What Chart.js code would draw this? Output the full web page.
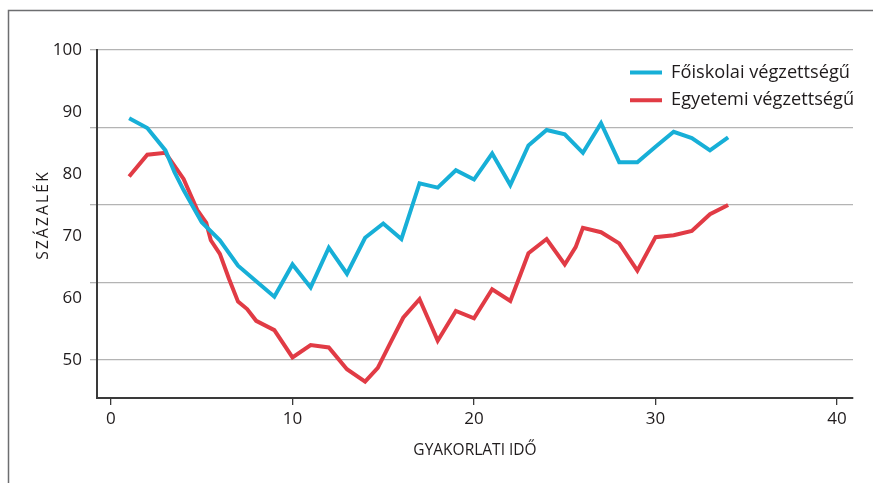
<!DOCTYPE html>
<html>
<head>
<meta charset="utf-8">
<script src="https://cdn.jsdelivr.net/npm/chart.js@4/dist/chart.umd.min.js"></script>
<style>
    body { margin: 0; background: #fff; }
</style>
</head>
<body>
<canvas id="myChart" width="873" height="483"></canvas>
<script>
// ADATOK

const xTicks = [0, 10, 20, 30, 40];
const yTicks = [50, 60, 70, 80, 90, 100];
const gridLevels = [50, 62.5, 75, 87.5, 100];

const blueLabel = 'Főiskolai végzettségű';
const blueX = [1, 2, 3, 3.5, 4, 5, 6, 7, 8, 9, 10, 11, 12, 13, 14, 15, 16, 17, 18, 19, 20, 21, 22, 23, 24, 25, 26, 27, 28, 29, 30, 31, 32, 33, 34];
const blueY = [89.0, 87.4, 83.8, 80.3, 77.4, 72.2, 69.3, 65.2, 62.7, 60.2, 65.4, 61.7, 68.1, 63.9, 69.7, 72.0, 69.5, 78.5, 77.8, 80.6, 79.1, 83.3, 78.2, 84.6, 87.1, 86.4, 83.4, 88.2, 81.9, 81.9, 84.4, 86.8, 85.8, 83.8, 85.9];

const redLabel = 'Egyetemi végzettségű';
const redX = [1, 2, 3, 4, 4.75, 5.25, 5.5, 6, 6.5, 7, 7.5, 8, 9, 10, 11, 12, 13, 14, 14.7, 15.4, 16.1, 17, 17.45, 18, 19, 20, 21, 22, 22.6, 23, 24, 25, 25.6, 26, 27, 28, 29, 30, 31, 32, 33, 34];
const redY = [79.6, 83.1, 83.4, 79.2, 74.2, 72.1, 69.3, 67.1, 63.1, 59.4, 58.2, 56.3, 54.8, 50.4, 52.4, 52.0, 48.5, 46.5, 48.7, 52.8, 56.8, 59.8, 56.8, 53.1, 57.9, 56.7, 61.4, 59.5, 64.1, 67.2, 69.5, 65.4, 68.2, 71.3, 70.6, 68.8, 64.4, 69.8, 70.1, 70.8, 73.5, 75.0];

// STÍLUS

const textColor = '#1f1b1c';
const axisColor = '#3a3a3a';
const gridColor = '#b4b4b4';
const fontFamily = '"Open Sans", "DejaVu Sans", sans-serif';
const yMin = 43.85;
const yMax = 100;

function toPoints(xs, ys) {
    return xs.map((x, i) => ({ x: x, y: ys[i] }));
}

function fixedTicks(values) {
    return (scale) => {
        scale.ticks = values.map((v) => ({ value: v }));
    };
}

// keret a bal és a felső szélen
const framePlugin = {
    id: 'frame',
    beforeDraw(chart) {
        const ctx = chart.ctx;
        ctx.save();
        ctx.strokeStyle = '#6d6e70';
        ctx.lineWidth = 1.5;
        ctx.beginPath();
        ctx.moveTo(8.5, chart.height);
        ctx.lineTo(8.5, 10.5);
        ctx.lineTo(chart.width, 10.5);
        ctx.stroke();
        ctx.restore();
    }
};

// jelmagyarázat a jobb felső sarokba, ritkított függőleges tengelycím
const layoutPlugin = {
    id: 'layoutTweaks',
    afterLayout(chart) {
        const legend = chart.legend;
        legend.left = chart.chartArea.right - 232.5;
        legend.right = legend.left + legend.width;
        legend.top = chart.chartArea.top + 4;
        legend.bottom = legend.top + legend.height;

        const yScale = chart.scales.y;
        if (!yScale._spacedTitle) {
            const drawTitle = yScale.drawTitle;
            yScale.drawTitle = function () {
                const ctx = this.ctx;
                ctx.save();
                ctx.letterSpacing = '2.2px';
                ctx.translate(0, -9);
                drawTitle.call(this);
                ctx.restore();
            };
            yScale._spacedTitle = true;
        }
    }
};

const data = {
    datasets: [{
        label: blueLabel,
        data: toPoints(blueX, blueY),
        borderColor: '#17afd7',
        backgroundColor: '#17afd7',
        borderWidth: 4,
        pointRadius: 0,
        tension: 0
    }, {
        label: redLabel,
        data: toPoints(redX, redY),
        borderColor: '#e13b45',
        backgroundColor: '#e13b45',
        borderWidth: 4,
        pointRadius: 0,
        tension: 0
    }]
};

const config = {
    type: 'line',
    data: data,
    options: {
        responsive: false,
        animation: false,
        devicePixelRatio: 1,
        layout: { padding: { left: 0, right: 20, top: 50, bottom: 0 } },
        plugins: {
            tooltip: { enabled: false },
            legend: {
                position: 'chartArea',
                align: 'start',
                labels: {
                    boxWidth: 32,
                    boxHeight: 4,
                    padding: 9.5,
                    color: textColor,
                    font: { family: fontFamily, size: 18.2 },
                    generateLabels(chart) {
                        return chart.data.datasets.map((ds, i) => ({
                            text: ds.label,
                            fillStyle: ds.borderColor,
                            strokeStyle: ds.borderColor,
                            lineWidth: 0,
                            fontColor: textColor,
                            datasetIndex: i
                        }));
                    }
                }
            }
        },
        scales: {
            x: {
                type: 'linear',
                min: -0.77,
                max: 40.88,
                afterBuildTicks: fixedTicks(xTicks),
                afterFit(scale) { scale.height = 85; },
                grid: { drawOnChartArea: false, tickLength: 7, color: axisColor, lineWidth: 1.3 },
                border: { color: axisColor, width: 2 },
                ticks: { color: textColor, padding: 4, font: { family: fontFamily, size: 17 } },
                title: {
                    display: true,
                    text: 'GYAKORLATI IDŐ',
                    color: textColor,
                    font: { family: fontFamily, size: 15.5 },
                    padding: { top: 0, bottom: 23 }
                }
            },
            y: {
                type: 'linear',
                position: 'left',
                weight: 1,
                min: yMin,
                max: yMax,
                afterBuildTicks: fixedTicks(yTicks),
                afterFit(scale) { scale.width = 90; },
                grid: { display: false, drawTicks: false },
                border: { display: false },
                ticks: { color: textColor, padding: 8, font: { family: fontFamily, size: 17 } },
                title: {
                    display: true,
                    text: 'SZÁZALÉK',
                    color: textColor,
                    font: { family: fontFamily, size: 15.5 },
                    padding: { top: 34, bottom: 0 }
                }
            },
            // vízszintes rácsvonalak és a függőleges tengelyvonal
            yGrid: {
                type: 'linear',
                position: 'left',
                weight: 0,
                min: yMin,
                max: yMax,
                afterBuildTicks: fixedTicks(gridLevels),
                afterFit(scale) { scale.width = 7; },
                grid: { color: gridColor, lineWidth: 1.3, tickLength: 7 },
                border: { color: axisColor, width: 2 },
                ticks: { display: false }
            }
        }
    },
    plugins: [framePlugin, layoutPlugin]
};

const myChart = new Chart(document.getElementById('myChart'), config);
</script>
</body>
</html>
